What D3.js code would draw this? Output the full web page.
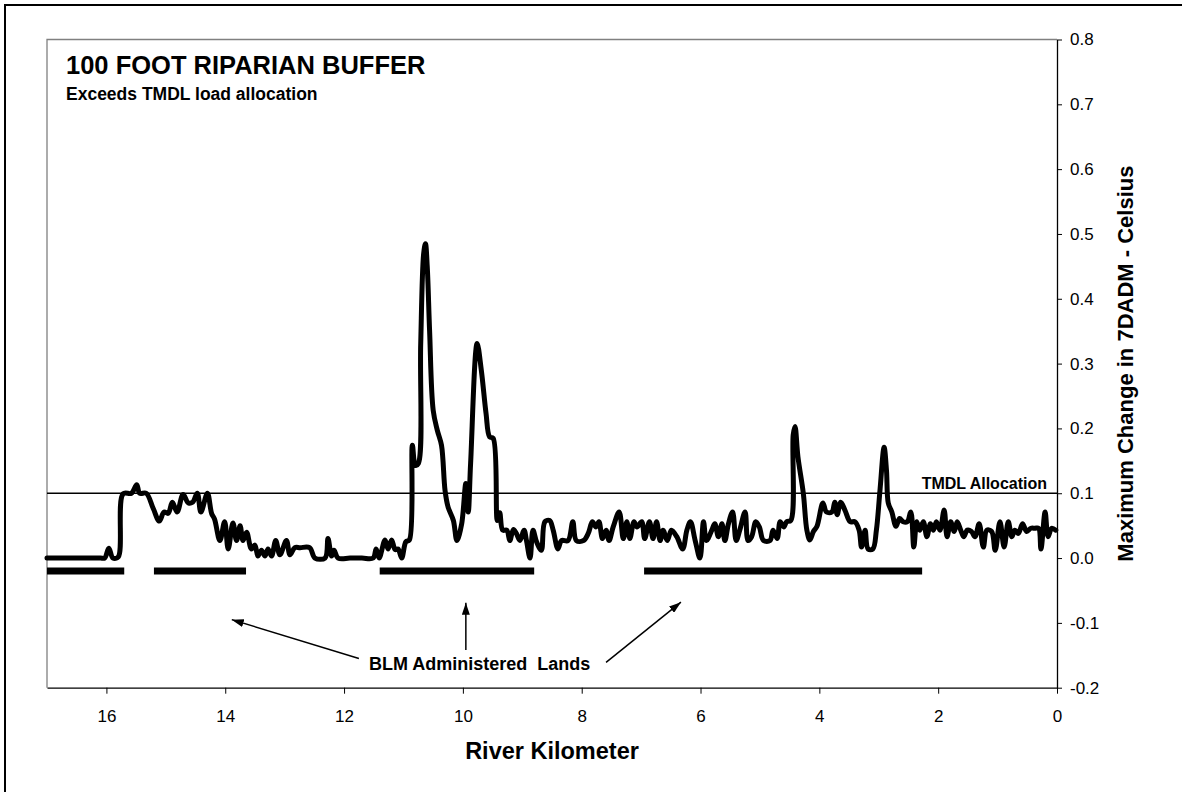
<!DOCTYPE html>
<html><head><meta charset="utf-8">
<script src="https://cdn.jsdelivr.net/npm/d3@7"></script>
<style>
body{margin:0;background:#fff}
svg{display:block}
text{font-family:"Liberation Sans",Arial,Helvetica,sans-serif;fill:#000}
</style>
</head><body>
<svg id="chart" width="1182" height="792"></svg>
<script>
// ---------- data ----------
const titleText = "100 FOOT RIPARIAN BUFFER";
const subtitleText = "Exceeds TMDL load allocation";
const xTitle = "River Kilometer";
const yTitle = "Maximum Change in 7DADM - Celsius";
const xTicks = [16, 14, 12, 10, 8, 6, 4, 2, 0];
const yTicks = [-0.2, -0.1, 0, 0.1, 0.2, 0.3, 0.4, 0.5, 0.6, 0.7, 0.8];
const tmdlAllocation = 0.1;
const tmdlLabel = "TMDL Allocation";
const blmLevel = -0.02;
const blmLands = [[17.0, 15.70], [15.20, 13.65], [11.40, 8.80], [6.95, 2.27]];
const blmLabel = "BLM Administered  Lands";
// arrows: [fromKm, fromVal, toKm, toVal]
const blmArrows = [[11.75, -0.155, 13.89, -0.095], [9.95, -0.142, 9.95, -0.069], [7.59, -0.161, 6.33, -0.068]];
// river km, max change in 7DADM (C)
const profile = [
[17.00,0],[16.70,0],[16.40,0],[16.10,0],[16.03,0],[15.96,0.015],[15.89,0],[15.80,0.002],[15.72,0.099],[15.58,0.100],[15.49,0.113],[15.44,0.100],[15.33,0.100],
[15.21,0.076],[15.11,0.057],[15.03,0.071],[14.96,0.069],[14.89,0.086],[14.81,0.071],[14.71,0.098],[14.62,0.085],[14.55,0.086],[14.47,0.100],
[14.41,0.071],[14.30,0.100],[14.23,0.069],[14.18,0.060],[14.09,0.027],[14.01,0.056],[13.95,0.014],[13.87,0.054],[13.81,0.027],[13.75,0.050],
[13.70,0.027],[13.64,0.040],[13.56,0.014],[13.50,0.020],[13.45,0.003],[13.39,0.012],[13.33,0.003],[13.28,0.014],[13.22,0.003],[13.15,0.027],
[13.08,0.005],[12.97,0.027],[12.91,0.005],[12.83,0.016],[12.74,0.016],[12.58,0.016],[12.49,0],[12.32,0],[12.27,0.030],[12.21,0.003],
[12.17,0.012],[12.10,0],[11.90,0],[11.70,0],[11.51,0],[11.46,0.014],[11.41,0],[11.31,0.028],[11.26,0.014],[11.20,0.028],[11.14,0.013],[11.09,0.014],
[11.03,0],[10.96,0.025],[10.90,0.028],[10.85,0.174],[10.80,0.143],[10.75,0.146],[10.71,0.330],[10.66,0.470],[10.63,0.485],[10.60,0.450],
[10.56,0.350],[10.50,0.228],[10.43,0.197],[10.36,0.174],[10.30,0.104],[10.25,0.079],[10.16,0.058],[10.10,0.027],[10.02,0.053],[9.95,0.115],
[9.91,0.071],[9.87,0.146],[9.76,0.331],[9.69,0.290],[9.61,0.223],[9.55,0.187],[9.49,0.185],[9.42,0.058],[9.38,0.070],[9.33,0.043],
[9.26,0.043],[9.21,0.027],[9.15,0.044],[9.10,0.038],[9.04,0.027],[8.97,0.043],[8.93,0.027],[8.87,0.000],[8.82,0.043],[8.76,0.025],
[8.68,0.012],[8.62,0.056],[8.54,0.058],[8.48,0.043],[8.40,0.014],[8.34,0.027],[8.23,0.027],[8.15,0.056],[8.09,0.027],[7.97,0.027],
[7.89,0.038],[7.82,0.056],[7.76,0.048],[7.71,0.056],[7.65,0.030],[7.59,0.043],[7.54,0.027],[7.47,0.048],[7.37,0.071],[7.30,0.030],
[7.24,0.056],[7.19,0.030],[7.12,0.056],[7.07,0.048],[6.99,0.056],[6.94,0.030],[6.86,0.056],[6.80,0.030],[6.74,0.056],[6.68,0.027],
[6.63,0.043],[6.56,0.027],[6.49,0.043],[6.40,0.033],[6.30,0.014],[6.23,0.043],[6.17,0.056],[6.09,0.027],[6.01,0.000],[5.95,0.056],
[5.90,0.027],[5.81,0.043],[5.76,0.053],[5.70,0.033],[5.64,0.053],[5.59,0.027],[5.53,0.053],[5.46,0.071],[5.40,0.027],[5.34,0.043],
[5.25,0.071],[5.20,0.027],[5.14,0.033],[5.07,0.056],[5.01,0.048],[4.94,0.027],[4.83,0.027],[4.78,0.043],[4.71,0.030],[4.66,0.056],
[4.60,0.048],[4.55,0.056],[4.48,0.058],[4.44,0.190],[4.41,0.203],[4.36,0.156],[4.27,0.100],[4.21,0.043],[4.16,0.028],[4.10,0.041],
[4.04,0.049],[3.94,0.085],[3.88,0.071],[3.79,0.071],[3.74,0.086],[3.70,0.067],[3.64,0.086],[3.57,0.074],[3.48,0.056],[3.40,0.056],
[3.33,0.043],[3.29,0.017],[3.23,0.043],[3.18,0.014],[3.10,0.014],[3.04,0.043],[2.98,0.104],[2.91,0.171],[2.87,0.135],[2.84,0.085],
[2.78,0.071],[2.71,0.049],[2.65,0.061],[2.59,0.056],[2.52,0.056],[2.46,0.071],[2.41,0.017],[2.36,0.056],[2.31,0.043],[2.25,0.056],
[2.19,0.033],[2.13,0.053],[2.08,0.043],[2.03,0.056],[1.97,0.043],[1.90,0.074],[1.85,0.033],[1.79,0.056],[1.73,0.041],[1.68,0.056],
[1.62,0.043],[1.57,0.033],[1.51,0.043],[1.44,0.041],[1.38,0.033],[1.31,0.053],[1.24,0.017],[1.18,0.043],[1.10,0.041],[1.04,0.012],
[0.96,0.056],[0.89,0.017],[0.82,0.056],[0.76,0.033],[0.71,0.043],[0.65,0.038],[0.58,0.053],[0.51,0.041],[0.44,0.046],[0.37,0.046],
[0.31,0.046],[0.27,0.014],[0.20,0.071],[0.15,0.033],[0.09,0.046],[0.02,0.043]
];

// ---------- layout ----------
const plot = {left: 47, right: 1057, top: 39.5, bottom: 687.7};
const svg = d3.select("#chart");
const x = d3.scaleLinear().domain([17, 0]).range([plot.left, plot.right]);
const y = d3.scaleLinear().domain([-0.2, 0.8]).range([plot.bottom, plot.top]);

// outer frame (extends beyond the picture on right/bottom)
svg.append("rect").attr("x", 5).attr("y", 5).attr("width", 1200).attr("height", 800)
  .attr("fill", "none").attr("stroke", "#000").attr("stroke-width", 2);

// plot area border (grey)
svg.append("path")
  .attr("d", `M${plot.left},${plot.bottom}V${plot.top}H${plot.right}`)
  .attr("fill", "none").attr("stroke", "#808080").attr("stroke-width", 1.3);

// TMDL allocation line
svg.append("line")
  .attr("x1", x(17)).attr("x2", x(0))
  .attr("y1", y(tmdlAllocation)).attr("y2", y(tmdlAllocation))
  .attr("stroke", "#000").attr("stroke-width", 1.3);
svg.append("text").attr("x", 1047).attr("y", y(tmdlAllocation) - 4)
  .attr("text-anchor", "end").attr("font-size", 16).attr("font-weight", "bold").text(tmdlLabel);

// BLM bars
svg.append("g").selectAll("line").data(blmLands).join("line")
  .attr("x1", d => x(d[0])).attr("x2", d => x(d[1]))
  .attr("y1", y(blmLevel)).attr("y2", y(blmLevel))
  .attr("stroke", "#000").attr("stroke-width", 7);

// data line
const line = d3.line().x(d => x(d[0])).y(d => y(d[1])).curve(d3.curveCatmullRom.alpha(0.5));
svg.append("path").datum(profile).attr("d", line)
  .attr("fill", "none").attr("stroke", "#000").attr("stroke-width", 5)
  .attr("stroke-linejoin", "round").attr("stroke-linecap", "round");

// x axis
const xAxis = d3.axisBottom(x).tickValues(xTicks).tickSize(6).tickSizeOuter(0).tickFormat(d3.format("d"));
const gx = svg.append("g").attr("transform", `translate(0,${plot.bottom})`).call(xAxis);
gx.select(".domain").attr("stroke", "#000").attr("stroke-width", 1.3);
gx.selectAll(".tick line").attr("stroke", "#000");
gx.selectAll(".tick text").attr("font-size", 17).attr("font-family", null).attr("dy", null).attr("y", 34);

// y axis (right)
const yAxis = d3.axisRight(y).tickValues(yTicks).tickSize(5).tickSizeOuter(0).tickFormat(d => d.toFixed(1));
const gy = svg.append("g").attr("transform", `translate(${plot.right},0)`).call(yAxis);
gy.select(".domain").attr("stroke", "#000").attr("stroke-width", 1.3);
gy.selectAll(".tick line").attr("stroke", "#000");
gy.selectAll(".tick text").attr("font-size", 17).attr("font-family", null).attr("x", 13);

// titles
svg.append("text").attr("x", 66).attr("y", 74).attr("font-size", 25.5).attr("font-weight", "bold").text(titleText);
svg.append("text").attr("x", 66).attr("y", 100).attr("font-size", 17.5).attr("font-weight", "bold").text(subtitleText);
svg.append("text").attr("x", (plot.left + plot.right) / 2).attr("y", 759).attr("text-anchor", "middle")
  .attr("font-size", 23.5).attr("font-weight", "bold").text(xTitle);
svg.append("text").attr("transform", `translate(1133,${(plot.top + plot.bottom) / 2}) rotate(-90)`)
  .attr("text-anchor", "middle").attr("font-size", 22).attr("font-weight", "bold").text(yTitle);

// BLM annotation
const defs = svg.append("defs");
defs.append("marker").attr("id", "arrow").attr("viewBox", "0 0 12 8").attr("refX", 12).attr("refY", 4)
  .attr("markerWidth", 12).attr("markerHeight", 8).attr("markerUnits", "userSpaceOnUse").attr("orient", "auto")
  .append("path").attr("d", "M0,0L12,4L0,8Z").attr("fill", "#000");
svg.append("g").selectAll("line").data(blmArrows).join("line")
  .attr("x1", d => x(d[0])).attr("y1", d => y(d[1])).attr("x2", d => x(d[2])).attr("y2", d => y(d[3]))
  .attr("stroke", "#000").attr("stroke-width", 1.5).attr("marker-end", "url(#arrow)");
svg.append("text").attr("x", x(11.58)).attr("y", y(-0.173)).attr("font-size", 18).attr("font-weight", "bold")
  .style("white-space", "pre").text(blmLabel);
</script>
</body></html>
